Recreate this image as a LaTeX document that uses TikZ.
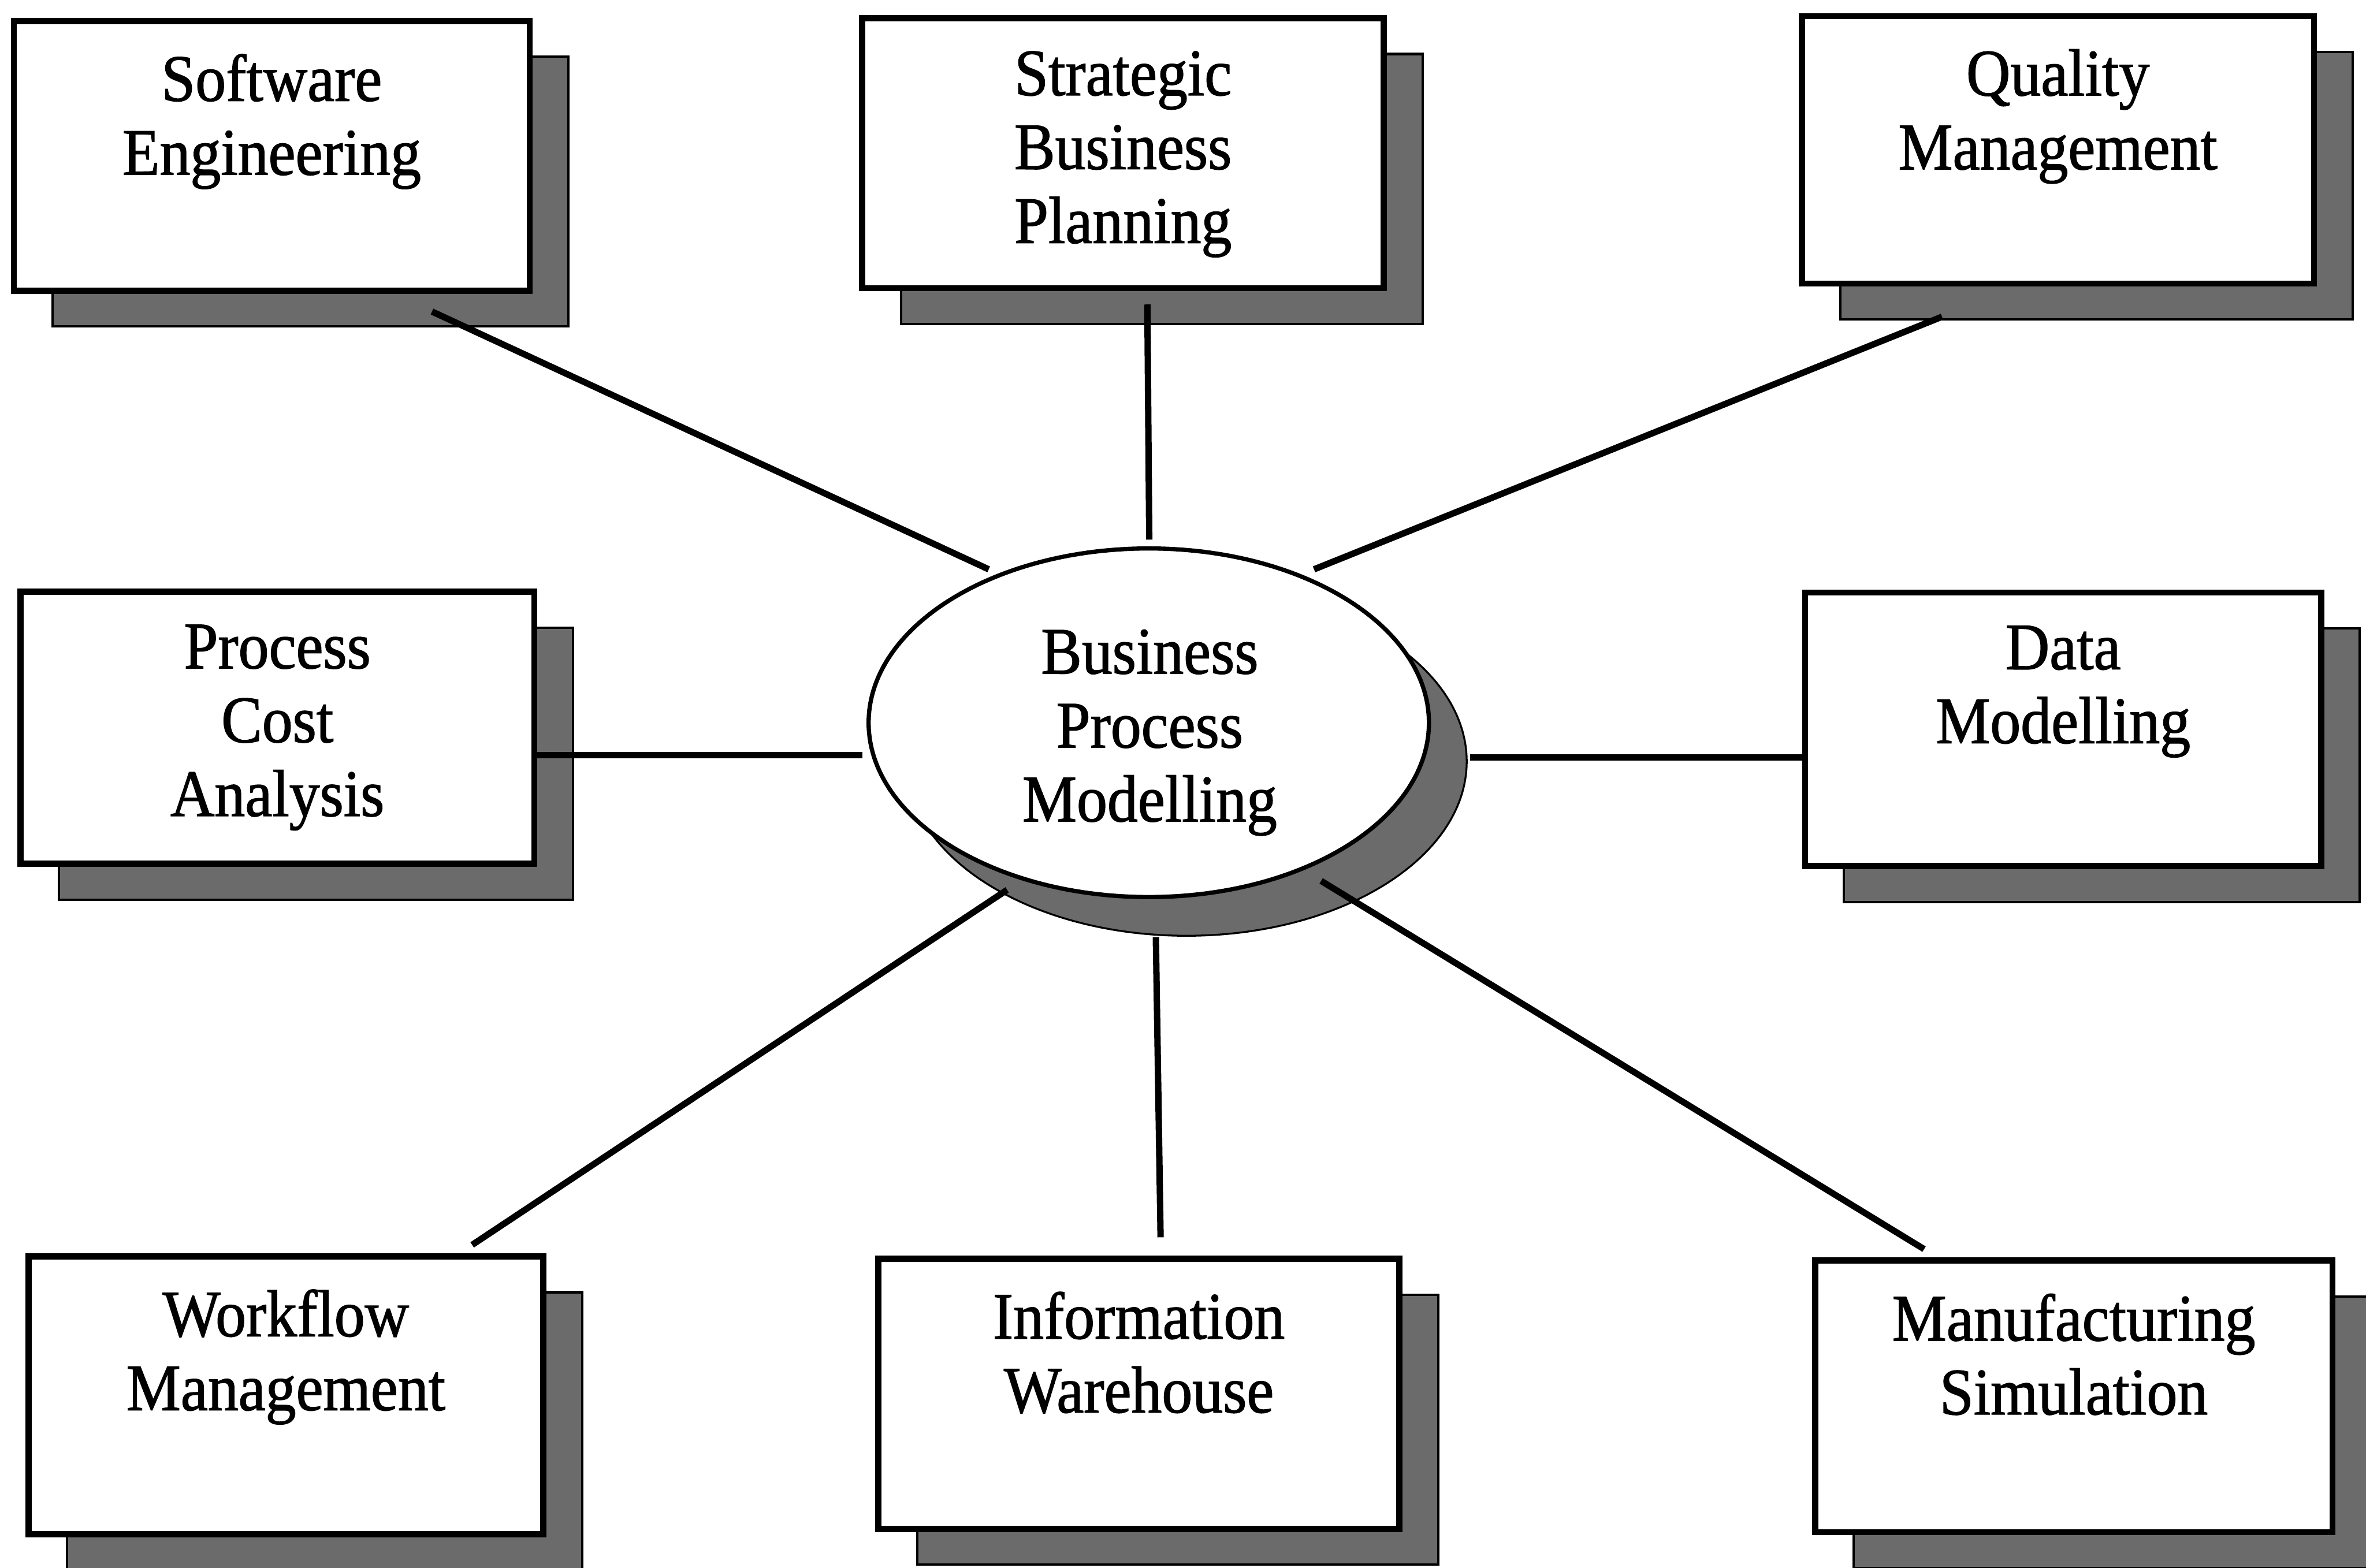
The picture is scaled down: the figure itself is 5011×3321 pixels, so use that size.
\documentclass[tikz,border=0pt]{standalone}
\usepackage{fontspec}
\newfontfamily\lblfont[FakeStretch=0.92,FakeBold=1.2]{Liberation Serif}
\usetikzlibrary{shapes.geometric}

% One topic box: shadow, framed box and its caption at the top.
% #1 name, #2 x, #3 y (centre), #4 width, #5 height, #6 caption
\newcommand\topicbox[6]{%
  \node[shadowbox, minimum width=#4, minimum height=#5] (#1-shadow) at (#2+82,#3+76) {};
  \node[topic, minimum width=#4, minimum height=#5] (#1) at (#2,#3) {};
  \node[lbl, anchor=north] (#1-text) at ([shift={(0,76)}]#1.north) {#6};
}

\begin{document}
\begin{tikzpicture}[x=0.01cm, y=-0.01cm,
  topic/.style={rectangle, draw=black, line width=0.13cm, fill=white, inner sep=0pt},
  shadowbox/.style={rectangle, draw=black, line width=0.05cm, fill=black!58, inner sep=0pt},
  lbl/.style={font=\lblfont\fontsize{40}{44.5}\selectfont, align=center, inner sep=0pt},
  link/.style={line width=0.135cm}]
\useasboundingbox (0,0) rectangle (5011,3321);
\clip (0,0) rectangle (5011,3321);

% top row
\topicbox{se}{575.5}{330}{10.92cm}{5.71cm}{Software\\Engineering}
\topicbox{sbp}{2378.5}{324.5}{11.04cm}{5.72cm}{Strategic\\Business\\Planning}
\topicbox{qm}{4358.5}{317.5}{10.84cm}{5.66cm}{Quality\\Management}
% middle row
\topicbox{pca}{587.5}{1541.5}{10.88cm}{5.76cm}{Process\\Cost\\Analysis}
\topicbox{dm}{4369.5}{1545}{10.92cm}{5.79cm}{Data\\Modelling}
% bottom row
\topicbox{wm}{605.5}{2955.5}{10.90cm}{5.88cm}{Workflow\\Management}
\topicbox{iw}{2412}{2952.5}{11.03cm}{5.72cm}{Information\\Warehouse}
\topicbox{ms}{4392}{2958}{10.95cm}{5.75cm}{Manufacturing\\Simulation}

% central ellipse with its shadow
\node[ellipse, draw=black, line width=0.04cm, fill=black!58, inner sep=0pt,
      minimum width=11.86cm, minimum height=7.38cm] (bpm-shadow) at (2433+80,1531+82) {};
\node[ellipse, draw=black, line width=0.09cm, fill=white, inner sep=0pt,
      minimum width=11.86cm, minimum height=7.38cm] (bpm) at (2433,1531) {};
\node[lbl, anchor=north] (bpm-text) at (2435,1333) {Business\\Process\\Modelling};

% spokes
\draw[link] ([shift={(339.5,330)}]se.center) -- ([shift={(-339,-325)}]bpm.center);
\draw[link] ([shift={(51.5,320.5)}]sbp.center) -- ([shift={(1,-388)}]bpm.center);
\draw[link] ([shift={(-245.5,353.5)}]qm.center) -- ([shift={(350,-325)}]bpm.center);
\draw[link] ([shift={(544.5,58.5)}]pca.center) -- ([shift={(-606,69)}]bpm.center);
\draw[link] ([shift={(-545.5,60)}]dm.center) -- ([shift={(680,74)}]bpm.center);
\draw[link] ([shift={(394.5,-318.5)}]wm.center) -- ([shift={(-300,354)}]bpm.center);
\draw[link] ([shift={(46,-331.5)}]iw.center) -- ([shift={(15,454)}]bpm.center);
\draw[link] ([shift={(-317,-312)}]ms.center) -- ([shift={(365,335)}]bpm.center);
\end{tikzpicture}
\end{document}
